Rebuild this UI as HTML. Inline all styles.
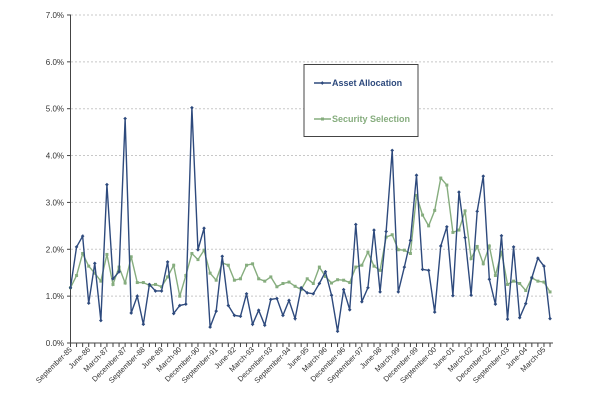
<!DOCTYPE html><html><head><style>body{margin:0;background:#fff}svg{display:block}text{font-family:"Liberation Sans",sans-serif}</style></head><body>
<svg id="c" width="603" height="400" xmlns="http://www.w3.org/2000/svg"></svg>
<script>
const A=[1.18,2.05,2.28,0.85,1.7,0.48,3.38,1.37,1.52,4.79,0.64,1.0,0.4,1.25,1.11,1.11,1.73,0.63,0.8,0.83,5.02,1.99,2.45,0.34,0.68,1.85,0.8,0.59,0.57,1.05,0.4,0.7,0.38,0.93,0.95,0.59,0.91,0.52,1.18,1.07,1.05,1.27,1.52,1.02,0.25,1.14,0.71,2.53,0.88,1.18,2.41,1.09,2.38,4.11,1.09,1.62,2.19,3.58,1.57,1.55,0.66,2.07,2.48,1.01,3.22,2.25,1.02,2.81,3.56,1.36,0.83,2.29,0.51,2.05,0.54,0.84,1.39,1.81,1.64,0.52];
const S=[1.18,1.44,1.91,1.64,1.49,1.32,1.89,1.25,1.62,1.28,1.84,1.29,1.29,1.23,1.25,1.2,1.41,1.66,1.0,1.44,1.91,1.78,1.98,1.49,1.34,1.71,1.66,1.34,1.37,1.66,1.69,1.37,1.32,1.41,1.2,1.27,1.3,1.21,1.14,1.37,1.27,1.62,1.42,1.28,1.35,1.34,1.29,1.62,1.66,1.94,1.64,1.55,2.26,2.31,1.99,1.98,1.91,3.15,2.73,2.5,2.83,3.52,3.37,2.36,2.41,2.82,1.8,2.06,1.69,2.07,1.44,1.94,1.25,1.32,1.27,1.12,1.39,1.32,1.3,1.09];
const L=["September-85","June-86","March-87","December-87","September-88","June-89","March-90","December-90","September-91","June-92","March-93","December-93","September-94","June-95","March-96","December-96","September-97","June-98","March-99","December-99","September-00","June-01","March-02","December-02","September-03","June-04","March-05"];
const X=i=>70.5+i*6.07,Y=v=>343-v*46.86;
let s='';
for(let k=0;k<=7;k++){const y=Y(k);if(k>0)s+=`<line x1="71" x2="553" y1="${y}" y2="${y}" stroke="#c8c8c8" stroke-dasharray="2,2"/>`;
s+=`<text x="64" y="${y+3}" font-size="8" text-anchor="end" fill="#333">${k}.0%</text><line x1="67" x2="71" y1="${y}" y2="${y}" stroke="#444"/>`;}
s+=`<line x1="70.5" x2="70.5" y1="15" y2="343" stroke="#444"/><line x1="70.5" x2="553" y1="343" y2="343" stroke="#444"/>`;
for(let i=0;i<80;i++)s+=`<line x1="${X(i)}" x2="${X(i)}" y1="343" y2="347" stroke="#444"/>`;
L.forEach((t,j)=>{const x=X(j*3)+2;s+=`<text transform="translate(${x},350) rotate(-45)" font-size="7.5" text-anchor="end" fill="#333">${t}</text>`;});
const line=(d,c)=>`<polyline fill="none" stroke="${c}" stroke-width="1.4" points="${d.map((v,i)=>X(i)+','+Y(v)).join(' ')}"/>`;
s+=line(S,'#86ad7e');
S.forEach((v,i)=>s+=`<rect x="${X(i)-1.5}" y="${Y(v)-1.5}" width="3" height="3" fill="#86ad7e"/>`);
s+=line(A,'#2e4a7d');
A.forEach((v,i)=>s+=`<rect x="${X(i)-1.3}" y="${Y(v)-1.3}" width="2.6" height="2.6" fill="#2e4a7d" transform="rotate(45 ${X(i)} ${Y(v)})"/>`);
s+=`<rect x="304" y="64.5" width="114" height="72" fill="#fff" stroke="#444"/>`;
s+=`<line x1="314" x2="331" y1="83" y2="83" stroke="#2e4a7d" stroke-width="1.4"/><rect x="321" y="81.7" width="2.6" height="2.6" fill="#2e4a7d" transform="rotate(45 322.3 83)"/><text x="332" y="86" font-size="9" font-weight="bold" fill="#2e4a7d">Asset Allocation</text>`;
s+=`<line x1="314" x2="331" y1="119" y2="119" stroke="#86ad7e" stroke-width="1.4"/><rect x="321" y="117.5" width="3" height="3" fill="#86ad7e"/><text x="332" y="122" font-size="9" font-weight="bold" fill="#86ad7e">Security Selection</text>`;
document.getElementById('c').innerHTML=s;
</script></body></html>
